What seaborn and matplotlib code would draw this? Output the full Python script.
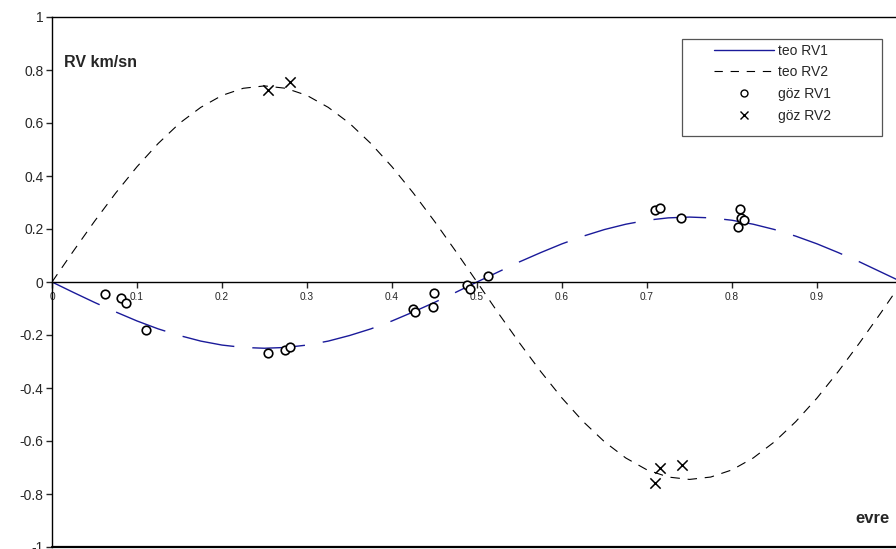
import numpy as np
import pandas as pd
import matplotlib
matplotlib.use("Agg")
import matplotlib.pyplot as plt
import seaborn as sns
from matplotlib.lines import Line2D
from matplotlib.patches import Rectangle

# theoretical curves
phase_teo = [0.000, 0.025, 0.050, 0.075, 0.100, 0.125, 0.150, 0.175, 0.200, 0.225,
             0.250, 0.275, 0.300, 0.325, 0.350, 0.375, 0.400, 0.425, 0.450, 0.475,
             0.500, 0.525, 0.550, 0.575, 0.600, 0.625, 0.650, 0.675, 0.700, 0.725,
             0.750, 0.775, 0.800, 0.825, 0.850, 0.875, 0.900, 0.925, 0.950, 0.975,
             1.000]
teo_rv1 = [0.000, -0.039, -0.077, -0.113, -0.147, -0.177, -0.202, -0.223, -0.238, -0.247,
           -0.250, -0.247, -0.238, -0.223, -0.202, -0.177, -0.147, -0.113, -0.077, -0.039,
           0.000, 0.038, 0.076, 0.111, 0.144, 0.173, 0.198, 0.218, 0.233, 0.242,
           0.245, 0.242, 0.233, 0.218, 0.198, 0.173, 0.144, 0.111, 0.076, 0.038,
           0.000]
teo_rv2 = [0.000, 0.116, 0.229, 0.336, 0.435, 0.523, 0.599, 0.659, 0.704, 0.731,
           0.740, 0.731, 0.704, 0.659, 0.599, 0.523, 0.435, 0.336, 0.229, 0.116,
           0.000, -0.117, -0.230, -0.338, -0.438, -0.527, -0.603, -0.664, -0.709, -0.736,
           -0.745, -0.736, -0.709, -0.664, -0.603, -0.527, -0.438, -0.338, -0.230, -0.117,
           0.000]

# observed velocities
obs1_phase = [0.062, 0.081, 0.087, 0.111, 0.254, 0.274, 0.280, 0.425, 0.427, 0.448, 0.449,
              0.488, 0.492, 0.513, 0.709, 0.715, 0.740, 0.807, 0.809, 0.811, 0.814]
obs1_rv = [-0.047, -0.062, -0.080, -0.181, -0.268, -0.255, -0.247, -0.100, -0.113, -0.094, -0.041,
           -0.012, -0.027, 0.023, 0.270, 0.280, 0.242, 0.209, 0.277, 0.243, 0.234]
obs2_phase = [0.254, 0.280, 0.709, 0.715, 0.741]
obs2_rv = [0.725, 0.755, -0.760, -0.700, -0.690]

legend_labels = ["teo RV1", "teo RV2", "göz RV1", "göz RV2"]
yticks = [-1, -0.8, -0.6, -0.4, -0.2, 0, 0.2, 0.4, 0.6, 0.8, 1]
xticks = [0, 0.1, 0.2, 0.3, 0.4, 0.5, 0.6, 0.7, 0.8, 0.9]

sns.set_style("white")
plt.rcParams['font.family'] = ['Liberation Sans', 'DejaVu Sans']

teo = pd.DataFrame({'evre': phase_teo, 'rv1': teo_rv1, 'rv2': teo_rv2})
obs1 = pd.DataFrame({'evre': obs1_phase, 'rv': obs1_rv})
obs2 = pd.DataFrame({'evre': obs2_phase, 'rv': obs2_rv})

fig = plt.figure(figsize=(8.96, 5.49), dpi=100)
ax = fig.add_axes([52 / 896, 2 / 549, 850 / 896, 530 / 549])

sns.lineplot(data=teo, x='evre', y='rv1', color='#1a1a9a', lw=1.0, ax=ax)
sns.lineplot(data=teo, x='evre', y='rv2', color='black', lw=0.8, ax=ax)
ax.lines[0].set_dashes((38, 13))
ax.lines[1].set_dashes((8.5, 7))
sns.scatterplot(data=obs1, x='evre', y='rv', marker='o', s=38, facecolor='white',
                edgecolor='black', linewidth=1.2, ax=ax, zorder=4)
sns.scatterplot(data=obs2, x='evre', y='rv', marker='x', s=55, color='black',
                linewidth=1.1, ax=ax, zorder=4)

ax.set_xlim(0, 1)
ax.set_ylim(-1, 1)
ax.set_xlabel('')
ax.set_ylabel('')

# x axis drawn through zero, frame line kept at the bottom
ax.spines['bottom'].set_position(('data', 0))
ax.spines['right'].set_visible(False)
for s in ['left', 'top', 'bottom']:
    ax.spines[s].set_linewidth(1.0)
    ax.spines[s].set_color('black')
ax.axhline(-1, color='black', lw=1.6, clip_on=False)

ax.set_yticks(yticks)
ax.set_yticklabels([f'{v:g}' for v in yticks], fontsize=10)
ax.set_xticks(xticks)
ax.set_xticklabels([f'{v:g}' for v in xticks], fontsize=7.3)
ax.tick_params(axis='y', direction='out', length=4, width=1, pad=2, left=True)
ax.tick_params(axis='x', direction='out', length=4, width=1, pad=3, bottom=True)

ax.text(0.014, 0.915, 'RV km/sn', transform=ax.transAxes, fontsize=11.5,
        fontweight='bold', va='center', ha='left')
ax.text(0.986, 0.053, 'evre', transform=ax.transAxes, fontsize=12,
        fontweight='bold', va='center', ha='right')

# legend with its own frame
handles = [
    Line2D([], [], color='#1a1a9a', lw=1.0),
    Line2D([], [], color='black', lw=0.8, dashes=(7.5, 7)),
    Line2D([], [], marker='o', ls='', markerfacecolor='white', markeredgecolor='black',
           markersize=5, markeredgewidth=1.0),
    Line2D([], [], marker='x', ls='', color='black', markersize=6, markeredgewidth=1.0),
]
ax.add_patch(Rectangle((0.741, 0.775), 0.235, 0.183, transform=ax.transAxes,
                       fill=False, edgecolor='#555555', lw=0.9, zorder=5))
ax.legend(handles, legend_labels, loc='upper left', bbox_to_anchor=(0.776, 0.955),
          frameon=False, fontsize=10, handlelength=4.3, handletextpad=0.3,
          labelspacing=0.55, borderpad=0.2, borderaxespad=0)

fig.savefig('out.png', dpi=100)
